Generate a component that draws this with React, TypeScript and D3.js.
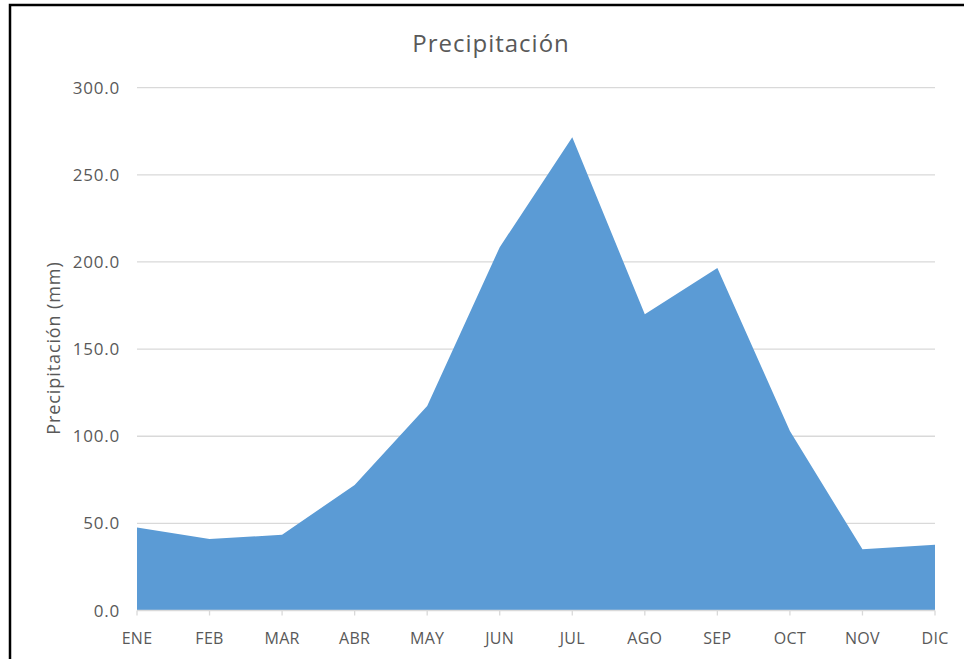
import { useEffect, useRef } from "react";
import * as d3 from "d3";

const MONTHS = ["ENE", "FEB", "MAR", "ABR", "MAY", "JUN", "JUL", "AGO", "SEP", "OCT", "NOV", "DIC"];
const RAIN = [47.7, 41.0, 43.5, 72.0, 117.3, 208.5, 271.5, 170.0, 196.5, 103.0, 35.1, 37.7];
const Y_TICKS = [0, 50, 100, 150, 200, 250, 300];

const W = 964;
const H = 659;
const FONT = "'Open Sans', 'Noto Sans', sans-serif";
const TEXT = "#595959";

export default function App() {
  const svgRef = useRef<SVGSVGElement>(null);

  useEffect(() => {
    if (!svgRef.current) return;
    const svg = d3.select(svgRef.current);
    svg.selectAll("*").remove();

    const x = d3.scalePoint<string>().domain(MONTHS).range([137, 935]);
    const y = d3.scaleLinear().domain([0, 300]).range([610.5, 87.7]);

    svg.append("rect").attr("width", W).attr("height", H).attr("fill", "#fff");

    // outer frame (right/bottom edges fall outside the picture)
    svg
      .append("rect")
      .attr("x", 10)
      .attr("y", 5)
      .attr("width", 1000)
      .attr("height", 1000)
      .attr("fill", "none")
      .attr("stroke", "#000")
      .attr("stroke-width", 2.5);

    // gridlines
    svg
      .append("g")
      .selectAll("line")
      .data(Y_TICKS.filter((d) => d > 0))
      .join("line")
      .attr("x1", x("ENE")!)
      .attr("x2", x("DIC")!)
      .attr("y1", (d) => y(d))
      .attr("y2", (d) => y(d))
      .attr("stroke", "#d9d9d9")
      .attr("stroke-width", 1.3);

    const area = d3
      .area<number>()
      .x((_, i) => x(MONTHS[i])!)
      .y0(y(0))
      .y1((d) => y(d));

    svg.append("path").datum(RAIN).attr("d", area).attr("fill", "#5b9bd5");

    // x axis line + ticks
    svg
      .append("line")
      .attr("x1", x("ENE")!)
      .attr("x2", x("DIC")!)
      .attr("y1", y(0))
      .attr("y2", y(0))
      .attr("stroke", "#d9d9d9")
      .attr("stroke-width", 1.3);

    svg
      .append("g")
      .selectAll("line")
      .data(MONTHS)
      .join("line")
      .attr("x1", (d) => x(d)!)
      .attr("x2", (d) => x(d)!)
      .attr("y1", y(0))
      .attr("y2", y(0) + 5)
      .attr("stroke", "#d9d9d9")
      .attr("stroke-width", 1.3);

    svg
      .append("g")
      .selectAll("text")
      .data(MONTHS)
      .join("text")
      .attr("x", (d) => x(d)!)
      .attr("y", 644)
      .attr("text-anchor", "middle")
      .attr("font-family", FONT)
      .attr("font-size", 16)
      .attr("letter-spacing", 0.3)
      .attr("fill", TEXT)
      .text((d) => d);

    svg
      .append("g")
      .selectAll("text")
      .data(Y_TICKS)
      .join("text")
      .attr("x", 120)
      .attr("y", (d) => y(d) + 6)
      .attr("text-anchor", "end")
      .attr("font-family", FONT)
      .attr("font-size", 17)
      .attr("letter-spacing", 0.8)
      .attr("fill", TEXT)
      .text((d) => d.toFixed(1));

    svg
      .append("text")
      .attr("transform", `translate(60,348) rotate(-90)`)
      .attr("text-anchor", "middle")
      .attr("font-family", FONT)
      .attr("font-size", 18)
      .attr("letter-spacing", 0.9)
      .attr("fill", TEXT)
      .text("Precipitación (mm)");

    svg
      .append("text")
      .attr("x", 491)
      .attr("y", 52)
      .attr("text-anchor", "middle")
      .attr("font-family", FONT)
      .attr("font-size", 24)
      .attr("letter-spacing", 1)
      .attr("fill", TEXT)
      .text("Precipitación");
  }, []);

  return (
    <svg
      ref={svgRef}
      width={W}
      height={H}
      style={{ position: "absolute", left: 0, top: 0, display: "block" }}
    />
  );
}
